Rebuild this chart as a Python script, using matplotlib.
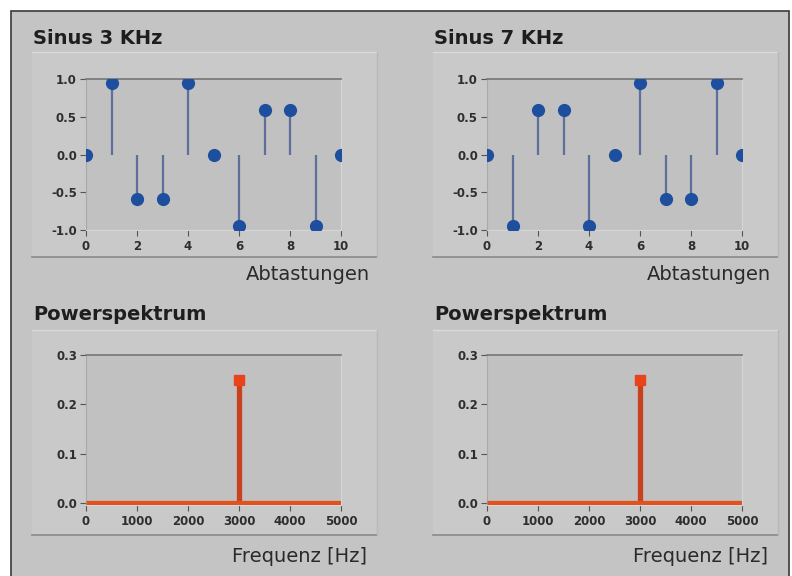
import matplotlib
matplotlib.use("Agg")
import matplotlib.pyplot as plt
from matplotlib.patches import Rectangle

# ---- data ----
samples = list(range(11))
sinus3 = [0.0, 0.95, -0.59, -0.59, 0.95, 0.0, -0.95, 0.59, 0.59, -0.95, 0.0]
sinus7 = [0.0, -0.95, 0.59, 0.59, -0.95, 0.0, 0.95, -0.59, -0.59, 0.95, 0.0]
freqs = [0, 1000, 2000, 3000, 4000, 5000]
power3 = [0.0, 0.0, 0.0, 0.25, 0.0, 0.0]
power7 = [0.0, 0.0, 0.0, 0.25, 0.0, 0.0]
titles_top = ["Sinus 3 KHz", "Sinus 7 KHz"]
title_bottom = "Powerspektrum"
xlabel_top = "Abtastungen"
xlabel_bottom = "Frequenz [Hz]"
sig_xticks = [0, 2, 4, 6, 8, 10]
sig_yticks = [-1.0, -0.5, 0.0, 0.5, 1.0]
pw_xticks = [0, 1000, 2000, 3000, 4000, 5000]
pw_yticks = [0.0, 0.1, 0.2, 0.3]

W, H = 792, 576
BG = "#c4c4c4"
PANEL = "#c9c9c9"
PLOT = "#c1c1c1"
FONT = "DejaVu Sans"
TICKFONT = "DejaVu Sans"

fig = plt.figure(figsize=(W / 100, H / 100), dpi=100)
fig.patch.set_facecolor("white")


def rect_px(x0, y0, x1, y1, **kw):
    r = Rectangle((x0 / W, 1 - y1 / H), (x1 - x0) / W, (y1 - y0) / H,
                  transform=fig.transFigure, **kw)
    fig.add_artist(r)
    return r


def line_px(x0, y0, x1, y1, **kw):
    fig.add_artist(plt.Line2D([x0 / W, x1 / W], [1 - y0 / H, 1 - y1 / H],
                              transform=fig.transFigure, **kw))


def text_px(x, y, s, **kw):
    fig.text(x / W, 1 - y / H, s, family=FONT, zorder=5, **kw)


# outer frame
rect_px(11, 11, 789, 580, facecolor=BG, edgecolor="#3a3a3a", linewidth=1.2, zorder=-2)


def panel(x0, y0, x1, y1):
    rect_px(x0, y0, x1, y1, facecolor=PANEL, edgecolor="none", zorder=-1.5)
    line_px(x0, y0, x1, y0, color="#dadada", linewidth=1.0, zorder=-1.4)
    line_px(x0, y1, x1, y1, color="#8a8a8a", linewidth=1.2, zorder=-1.4)
    line_px(x1, y0, x1, y1, color="#b8b8b8", linewidth=1.0, zorder=-1.4)


def make_axes(x0, y0, x1, y1):
    ax = fig.add_axes([x0 / W, 1 - y1 / H, (x1 - x0) / W, (y1 - y0) / H])
    ax.set_zorder(2)
    ax.set_facecolor(PLOT)
    ax.spines["top"].set_color("#767676")
    ax.spines["top"].set_linewidth(1.2)
    ax.spines["left"].set_color("#a9a9a9")
    ax.spines["bottom"].set_color("#d6d6d6")
    ax.spines["right"].set_color("#d6d6d6")
    ax.tick_params(axis="both", length=4, width=0.8, color="#555555",
                   labelsize=8.5, labelcolor="#2e2e2e")
    ax.tick_params(axis="y", pad=2.5)
    ax.tick_params(axis="x", pad=3.5)
    return ax


def style_ticks(ax):
    for lab in ax.get_xticklabels() + ax.get_yticklabels():
        lab.set_family(TICKFONT)
        lab.set_fontweight("bold")


# top panels
for i, (data, title) in enumerate([(sinus3, titles_top[0]), (sinus7, titles_top[1])]):
    dx = 0 if i == 0 else 401
    panel(32 + dx, 52, 377 + dx, 257)
    text_px(33 + dx, 38, title, fontsize=14, fontweight="bold", color="#1e1e1e",
            va="center", ha="left")
    ax = make_axes(86 + dx, 79, 341 + dx, 230)
    ax.vlines(samples, 0, data, color="#5d6f9a", linewidth=1.6, zorder=2)
    sc = ax.scatter(samples, data, s=9.5 ** 2, marker="o", color="#1d4f9e",
                    linewidths=0, zorder=3)
    sc.set_clip_path(ax.patch)
    ax.set_xlim(0, 10)
    ax.set_ylim(-1.0, 1.0)
    ax.set_xticks(sig_xticks)
    ax.set_yticks(sig_yticks)
    ax.set_yticklabels([f"{v:.1f}" for v in sig_yticks])
    style_ticks(ax)
    text_px(370 + dx, 275, xlabel_top, fontsize=14, color="#2a2a2a",
            ha="right", va="center")

# bottom panels
for i, data in enumerate([power3, power7]):
    dx = 0 if i == 0 else 401
    panel(32 + dx, 330, 377 + dx, 535)
    text_px(33 + dx, 315, title_bottom, fontsize=14, fontweight="bold",
            color="#1e1e1e", va="center", ha="left")
    ax = make_axes(86 + dx, 355, 341 + dx, 505)
    ax.vlines(freqs, 0, data, color="#c9421f", linewidth=3.8, zorder=3)
    peak = [(f, v) for f, v in zip(freqs, data) if v > 0]
    ax.plot([p[0] for p in peak], [p[1] for p in peak], linestyle="none",
            marker="s", markersize=7.5, color="#e8431c", zorder=4)
    ax.plot([freqs[0], freqs[-1]], [0.0, 0.0], color="#e2521f", linewidth=3.8,
            zorder=3, solid_capstyle="butt")
    ax.set_xlim(0, 5000)
    ax.set_ylim(-0.004, 0.3)
    ax.set_xticks(pw_xticks)
    ax.set_yticks(pw_yticks)
    ax.set_yticklabels([f"{v:.1f}" for v in pw_yticks])
    style_ticks(ax)
    text_px(367 + dx, 557, xlabel_bottom, fontsize=14, color="#2a2a2a",
            ha="right", va="center")

fig.savefig("out.png", dpi=100, facecolor=fig.get_facecolor())
